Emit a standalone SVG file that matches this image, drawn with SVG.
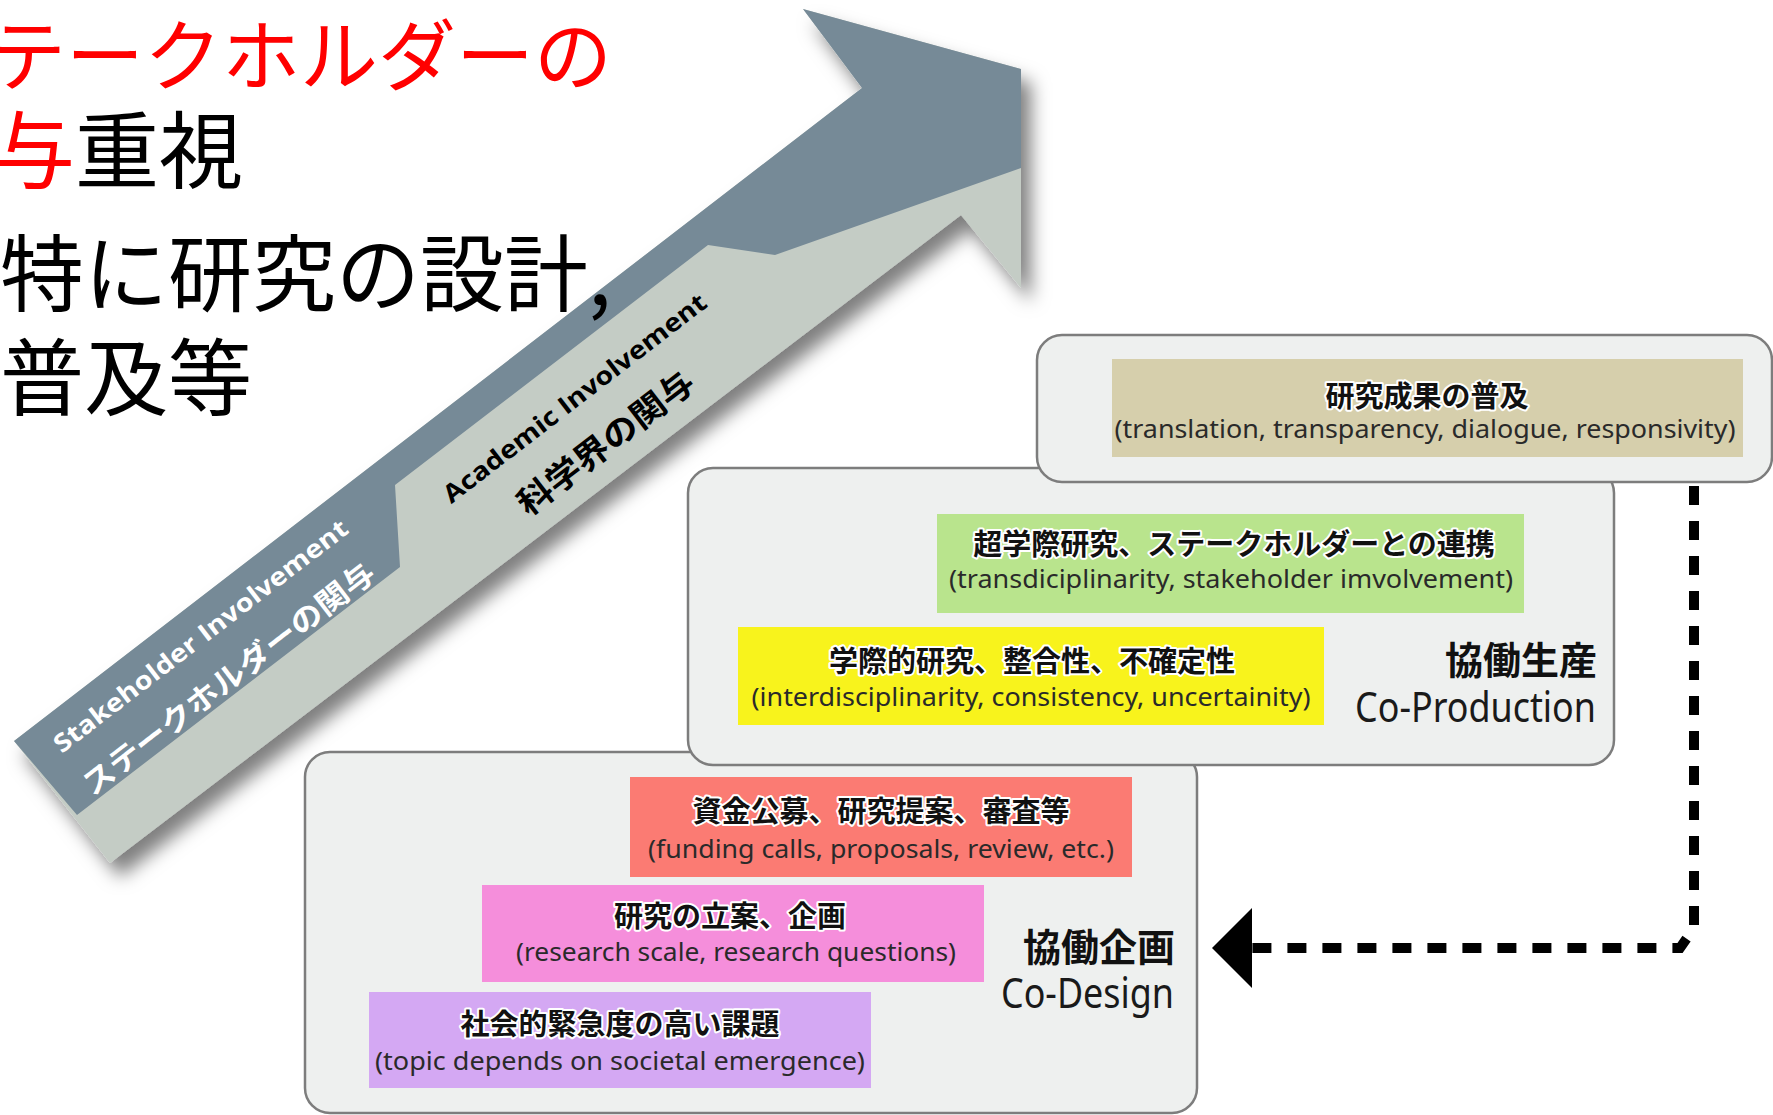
<svg xmlns="http://www.w3.org/2000/svg" width="1773" height="1115" viewBox="0 0 1773 1115">
  <style>
    .panel { fill: #eef0ef; stroke: #7d7d7d; stroke-width: 2.5; }
    .jp { font-family: "Noto Sans CJK JP", sans-serif; font-weight: 700; font-size: 29px; fill: #111; stroke: #fff; stroke-width: 4; paint-order: stroke; stroke-linejoin: round; text-anchor: middle; }
    .en { font-family: "Noto Sans", sans-serif; font-size: 25px; fill: #2a2a2a; text-anchor: middle; }
    .phase-jp { font-family: "Noto Sans CJK JP", sans-serif; font-weight: 700; font-size: 38px; fill: #111; text-anchor: end; }
    .phase-en { font-family: "Noto Sans", sans-serif; font-size: 41px; fill: #1a1a1a; text-anchor: end; }
    .title { font-family: "Noto Sans CJK JP", sans-serif; font-size: 84px; fill: #000; }
    .title1 { font-size: 78px; }
    .red { fill: #ff0000; }
    .arr-en { font-family: "Open Sans", "Noto Sans", sans-serif; font-weight: 700; font-size: 25px; text-anchor: middle; }
    .arr-jp { font-family: "Noto Sans CJK JP", sans-serif; font-weight: 700; font-size: 30px; text-anchor: middle; }
    .arr-jp2 { font-size: 33px; }
    .flow { fill: none; stroke: #000; stroke-width: 10; stroke-dasharray: 19 16; }
  </style>
  <defs>
    <filter id="shadow" x="-10%" y="-10%" width="130%" height="130%">
      <feDropShadow dx="10" dy="14" stdDeviation="9" flood-color="#000" flood-opacity="0.5"/>
    </filter>
    <marker id="head" markerUnits="userSpaceOnUse" viewBox="0 0 40 80" markerWidth="40" markerHeight="80" refX="0" refY="40" orient="auto">
      <path d="M0,0 L40,40 L0,80 Z" fill="#000"/>
    </marker>
  </defs>

  <!-- Co-Design panel -->
  <g id="panel-codesign">
    <rect class="panel" x="305" y="752" width="892" height="361" rx="25"/>
    <g id="box-funding">
      <rect x="630" y="777" width="502" height="100" fill="#fb7b73"/>
      <text class="jp" x="881" y="822">資金公募、研究提案、審査等</text>
      <text class="en" x="881" y="858" textLength="466" lengthAdjust="spacingAndGlyphs">(funding calls, proposals, review, etc.)</text>
    </g>
    <g id="box-planning">
      <rect x="482" y="885" width="502" height="97" fill="#f58edb"/>
      <text class="jp" x="730" y="927">研究の立案、企画</text>
      <text class="en" x="736" y="961" textLength="440" lengthAdjust="spacingAndGlyphs">(research scale, research questions)</text>
    </g>
    <g id="box-topic">
      <rect x="369" y="992" width="502" height="96" fill="#d4a8f3"/>
      <text class="jp" x="620" y="1035">社会的緊急度の高い課題</text>
      <text class="en" x="620" y="1070" textLength="490" lengthAdjust="spacingAndGlyphs">(topic depends on societal emergence)</text>
    </g>
    <text class="phase-jp" x="1175" y="961">協働企画</text>
    <text class="phase-en" x="1174" y="1008" textLength="173" lengthAdjust="spacingAndGlyphs">Co-Design</text>
  </g>

  <!-- Co-Production panel -->
  <g id="panel-coproduction">
    <rect class="panel" x="688" y="468" width="926" height="297" rx="25"/>
    <g id="box-transdisciplinary">
      <rect x="937" y="514" width="587" height="99" fill="#b9e48d"/>
      <text class="jp" x="1234" y="555">超学際研究、ステークホルダーとの連携</text>
      <text class="en" x="1231" y="588" textLength="564" lengthAdjust="spacingAndGlyphs">(transdiciplinarity, stakeholder imvolvement)</text>
    </g>
    <g id="box-interdisciplinary">
      <rect x="738" y="627" width="586" height="98" fill="#f8f31c"/>
      <text class="jp" x="1032" y="672">学際的研究、整合性、不確定性</text>
      <text class="en" x="1031" y="706" textLength="559" lengthAdjust="spacingAndGlyphs">(interdisciplinarity, consistency, uncertainity)</text>
    </g>
    <text class="phase-jp" x="1597" y="674">協働生産</text>
    <text class="phase-en" x="1596" y="722" textLength="241" lengthAdjust="spacingAndGlyphs">Co-Production</text>
  </g>

  <!-- connector -->
  <g id="connectors">
    <path class="flow" d="M1694,486 V928 L1680,948 H1252" marker-end="url(#head)"/>
  </g>

  <!-- Dissemination panel -->
  <g id="panel-dissemination">
    <rect class="panel" x="1037" y="335" width="735" height="147" rx="25"/>
    <g id="box-dissemination">
      <rect x="1112" y="359" width="631" height="98" fill="#d6cfac"/>
      <text class="jp" x="1427" y="407">研究成果の普及</text>
      <text class="en" x="1425" y="438" textLength="621" lengthAdjust="spacingAndGlyphs">(translation, transparency, dialogue, responsivity)</text>
    </g>
  </g>

  <!-- big arrow -->
  <g id="involvement-arrow">
    <g filter="url(#shadow)">
      <polygon points="14,741 862,88 803,9 1021,69 1021,288 961,215 110,863" fill="#c4ccc5"/>
      <polygon points="14,741 862,88 803,9 1021,69 1021,168 775,255 708,245 395,485 400,567 77,815" fill="#768a97"/>
    </g>
    <text class="arr-en" fill="#fff" transform="translate(206,643) rotate(-37.6)" textLength="364" lengthAdjust="spacingAndGlyphs">Stakeholder Involvement</text>
    <text class="arr-jp" fill="#fff" transform="translate(235,687) rotate(-37.6)" textLength="360" lengthAdjust="spacingAndGlyphs">ステークホルダーの関与</text>
    <text class="arr-en" fill="#000" transform="translate(580,405) rotate(-37.6)" textLength="325" lengthAdjust="spacingAndGlyphs">Academic Involvement</text>
    <text class="arr-jp arr-jp2" fill="#000" transform="translate(613,452) rotate(-37.6)" textLength="213" lengthAdjust="spacingAndGlyphs">科学界の関与</text>
  </g>

  <!-- title text -->
  <g id="title">
    <text class="title title1 red" x="-12" y="85">テークホルダーの</text>
    <text class="title" x="-9" y="182"><tspan class="red">与</tspan>重視</text>
    <text class="title" x="0" y="305">特に研究の設計,</text>
    <text class="title" x="0" y="409">普及等</text>
  </g>
</svg>
